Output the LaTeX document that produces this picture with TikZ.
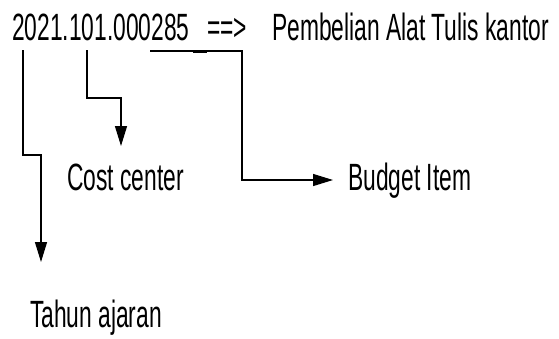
\documentclass[tikz,border=0pt]{standalone}
\usepackage{fontspec}
\setmainfont{Liberation Sans}
\usetikzlibrary{arrows.meta}

\begin{document}
\begin{tikzpicture}[x=1pt, y=-1pt,
		txt/.style={anchor=base west, inner sep=0pt, xscale=0.6, font=\fontsize{38}{44}\selectfont},
		pointer/.style={line width=1.3pt, -{Triangle[length=20pt, width=12pt]}}]
		\useasboundingbox (0, 0) rectangle (559, 338);
		
		% account code and its meaning
		\node[txt] (code) at (12, 40) {2021.101.000285};
		\node[txt] (imply) at (207, 40) {==>};
		\node[txt] (item) at (272, 40) {Pembelian Alat Tulis kantor};
		
		% the parts of the code
		\node[txt] (year) at (30, 327) {Tahun ajaran};
		\node[txt] (cost) at (67, 190) {Cost center};
		\node[txt] (budget) at (348, 190) {Budget Item};
		
		\coordinate (yearstart) at (23, 50);
		\coordinate (yearend) at (41, 262);
		\coordinate (coststart) at (87, 50);
		\coordinate (costend) at (121, 146);
		\coordinate (budgetstart) at (150, 51);
		\coordinate (budgetend) at (333, 180);
		
		% Tahun ajaran
		\draw[pointer] (yearstart) -- (23, 155) -| (yearend);
		% Cost center
		\draw[pointer] (coststart) -- (87, 98) -| (costend);
		% Budget item
		\draw[pointer] (budgetstart) -| (242, 180) -- (budgetend);
		\fill (193, 50) rectangle (207, 53);
		
	\end{tikzpicture}
\end{document}
